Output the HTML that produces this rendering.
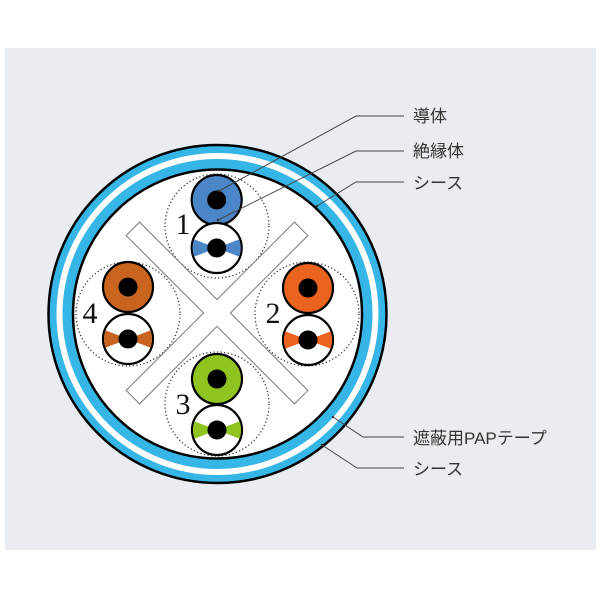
<!DOCTYPE html>
<html><head><meta charset="utf-8"><style>
html,body{margin:0;padding:0;background:#fff;}
body{width:600px;height:600px;overflow:hidden;position:relative;}
</style></head><body>
<svg width="600" height="600" viewBox="0 0 600 600" xmlns="http://www.w3.org/2000/svg">
<rect x="5" y="48" width="591" height="502" fill="#e9edf1"/>
<defs>
<clipPath id="cw"><circle r="24"/></clipPath>
<g id="wire">
<circle r="25" fill="#fff" stroke="#000" stroke-width="2.2"/>
</g>
</defs>
<!-- cable jacket -->
<circle cx="217.5" cy="314" r="169" fill="#35b6e6" stroke="#000" stroke-width="2.5"/>
<circle cx="217.5" cy="314" r="158" fill="none" stroke="#fff" stroke-width="6"/>
<circle cx="217.5" cy="314" r="144.5" fill="#fff" stroke="#000" stroke-width="2.5"/>
<!-- dotted pair circles -->
<g fill="none" stroke="#333" stroke-width="1.3" stroke-dasharray="1.2 2.4">
<circle cx="217" cy="226" r="52"/>
<circle cx="307" cy="314" r="52"/>
<circle cx="217" cy="404" r="52"/>
<circle cx="128" cy="314" r="52"/>
</g>
<!-- X separator -->
<g transform="translate(217,313) rotate(45)">
<polygon points="119,9.5 9.5,9.5 9.5,119 -9.5,119 -9.5,9.5 -119,9.5 -119,-9.5 -9.5,-9.5 -9.5,-119 9.5,-119 9.5,-9.5 119,-9.5" fill="#fff" stroke="#777" stroke-width="1"/>
</g>
<!-- pair 1 -->
<circle cx="216.7" cy="200" r="25" fill="#4b87c8" stroke="#000" stroke-width="2.2"/>
<circle cx="216.7" cy="200" r="9.5" fill="#000"/>
<g transform="translate(216.7,248)">
<circle r="25" fill="#fff" stroke="#000" stroke-width="2.2"/>
<g clip-path="url(#cw)"><polygon points="0,0 -26,-10 -26,10" fill="#4b87c8"/><polygon points="0,0 26,-10 26,10" fill="#4b87c8"/></g>
<circle r="9.5" fill="#000"/>
</g>
<!-- pair 2 -->
<circle cx="308" cy="288" r="25" fill="#ea6420" stroke="#000" stroke-width="2.2"/>
<circle cx="308" cy="288" r="9.5" fill="#000"/>
<g transform="translate(308,340)">
<circle r="25" fill="#fff" stroke="#000" stroke-width="2.2"/>
<g clip-path="url(#cw)"><polygon points="0,0 -26,-10 -26,10" fill="#ea6420"/><polygon points="0,0 26,-10 26,10" fill="#ea6420"/></g>
<circle r="9.5" fill="#000"/>
</g>
<!-- pair 3 -->
<circle cx="217" cy="379" r="25" fill="#8fc31f" stroke="#000" stroke-width="2.2"/>
<circle cx="217" cy="379" r="9.5" fill="#000"/>
<g transform="translate(217,430)">
<circle r="25" fill="#fff" stroke="#000" stroke-width="2.2"/>
<g clip-path="url(#cw)"><polygon points="0,0 -26,-10 -26,10" fill="#8fc31f"/><polygon points="0,0 26,-10 26,10" fill="#8fc31f"/></g>
<circle r="9.5" fill="#000"/>
</g>
<!-- pair 4 -->
<circle cx="128" cy="287" r="25" fill="#c8641e" stroke="#000" stroke-width="2.2"/>
<circle cx="128" cy="287" r="9.5" fill="#000"/>
<g transform="translate(128,339)">
<circle r="25" fill="#fff" stroke="#000" stroke-width="2.2"/>
<g clip-path="url(#cw)"><polygon points="0,0 -26,-10 -26,10" fill="#c8641e"/><polygon points="0,0 26,-10 26,10" fill="#c8641e"/></g>
<circle r="9.5" fill="#000"/>
</g>
<!-- numbers -->
<g font-family="Liberation Serif, serif" font-size="30" fill="#111" text-anchor="middle">
<text x="183" y="234">1</text>
<text x="273" y="323">2</text>
<text x="183" y="414">3</text>
<text x="90" y="323">4</text>
</g>
<!-- leader lines -->
<g fill="none" stroke="#444" stroke-width="1">
<polyline points="219,191 356,116 404,116"/>
<polyline points="218,220 356,151 404,151"/>
<polyline points="317,206 356,182 404,182"/>
<polyline points="333,417 363,437 404,437"/>
<polyline points="322,445 357,468 404,468"/>
</g>
<g fill="#333"><circle cx="219" cy="191" r="1.2"/><circle cx="218" cy="220" r="1.2"/><circle cx="317" cy="206" r="1.2"/><circle cx="333" cy="417" r="1.2"/><circle cx="322" cy="445" r="1.2"/></g>
<g font-family="Liberation Sans, Noto Sans CJK JP, sans-serif" font-size="17" fill="#333">
<text x="413" y="122">導体</text>
<text x="413" y="157">絶縁体</text>
<text x="413" y="189">シース</text>
<text x="413" y="444">遮蔽用PAPテープ</text>
<text x="413" y="475">シース</text>
</g>
</svg>
</body></html>
